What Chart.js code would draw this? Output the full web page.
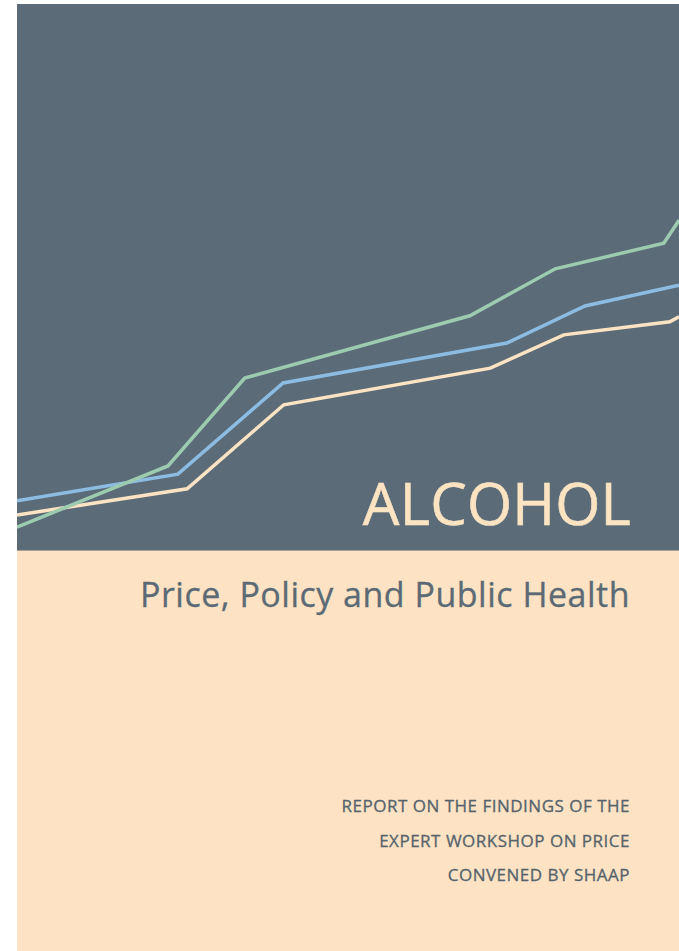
<!DOCTYPE html>
<html>
<head>
<meta charset="utf-8">
<script src="https://cdn.jsdelivr.net/npm/chart.js@4"></script>
<style>
  body { margin: 0; background: #ffffff; width: 679px; height: 951px; overflow: hidden; }
  .cover { position: absolute; left: 17px; top: 4px; width: 662px; height: 947px; background: #fde3c3; }
  .top { position: absolute; left: 0; top: 0; width: 662px; height: 546px; background: #5b6c78; border-bottom: 1px solid #a9a196; }
  .txt { position: absolute; font-family: "Open Sans", sans-serif; white-space: nowrap; text-align: right; }
  #title { right: 48px; top: 470px; font-size: 58px; line-height: 58px; color: #fce3c2; letter-spacing: 0.2px; -webkit-text-stroke: 0.6px #fce3c2; }
  #sub { right: 49px; top: 573px; font-size: 34px; line-height: 34px; color: #5b6a75; letter-spacing: 0.5px; -webkit-text-stroke: 0.3px #5b6a75; }
  #report { right: 49px; top: 785px; font-size: 17px; line-height: 34.5px; color: #56636d; letter-spacing: 0.5px; -webkit-text-stroke: 0.3px #56636d; }
</style>
</head>
<body>
<div class="cover">
  <div class="top"><canvas id="cv" width="662" height="546"></canvas></div>
  <div class="txt" id="title">ALCOHOL</div>
  <div class="txt" id="sub">Price, Policy and Public Health</div>
  <div class="txt" id="report">REPORT ON THE FINDINGS OF THE<br>EXPERT WORKSHOP ON PRICE<br>CONVENED BY SHAAP</div>
</div>
<script>
const greenX = [0, 22.8, 34.4, 68.4, 81.3, 97.7, 100];
const greenY = [4.2, 15.4, 31.5, 42.9, 51.5, 56.2, 60.4];
const blueX = [0, 24.3, 40.2, 74.0, 85.8, 100];
const blueY = [9.0, 13.9, 30.6, 37.9, 44.7, 48.5];
const beigeX = [0, 25.7, 40.3, 71.5, 82.6, 98.6, 100];
const beigeY = [6.4, 11.2, 26.6, 33.3, 39.4, 41.8, 42.7];

const pts = (xs, ys) => xs.map((x, i) => ({ x: x, y: ys[i] }));

const line = (data, color) => ({
    data: data,
    borderColor: color,
    borderWidth: 3.5,
    pointRadius: 0,
    tension: 0,
    fill: false
});

new Chart(document.getElementById("cv"), {
    type: 'line',
    data: {
        datasets: [
            line(pts(greenX, greenY), "#9ccbb0"),
            line(pts(blueX, blueY), "#8dbce3"),
            line(pts(beigeX, beigeY), "#fbe3c3")
        ]
    },
    options: {
        responsive: false,
        animation: false,
        layout: { padding: 0 },
        plugins: { legend: { display: false }, tooltip: { enabled: false } },
        scales: {
            x: { type: 'linear', min: 0, max: 100, display: false },
            y: { min: 0, max: 100, display: false }
        }
    }
});
</script>
</body>
</html>
